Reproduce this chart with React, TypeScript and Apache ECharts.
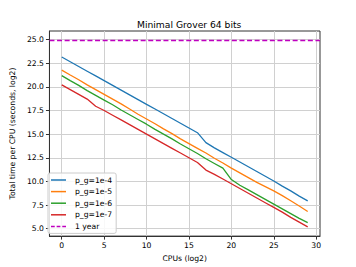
import React, { useEffect, useRef } from "react";
import * as echarts from "echarts";

const TITLE = "Minimal Grover 64 bits";
const X_LABEL = "CPUs (log2)";
const Y_LABEL = "Total time per CPU (seconds, log2)";

const cpus = [0, 1, 2, 3, 4, 5, 6, 7, 8, 9, 10, 11, 12, 13, 14, 15, 16, 17, 18, 19, 20, 21, 22, 23, 24, 25, 26, 27, 28, 29];
const pg1e4 = [23.15, 22.65, 22.15, 21.65, 21.15, 20.65, 20.15, 19.65, 19.15, 18.65, 18.15, 17.65, 17.15, 16.65, 16.15, 15.65, 15.15, 14.1, 13.55, 13.05, 12.55, 12.05, 11.55, 11.05, 10.55, 10.05, 9.5, 9.0, 8.45, 7.95];
const pg1e5 = [21.77, 21.25, 20.75, 20.2, 19.7, 19.2, 18.7, 18.2, 17.65, 17.1, 16.6, 16.1, 15.55, 15.05, 14.5, 14.0, 13.5, 13.0, 12.45, 11.95, 11.4, 10.9, 10.4, 9.9, 9.45, 9.0, 8.5, 7.95, 7.4, 6.82];
const pg1e6 = [21.18, 20.65, 20.15, 19.6, 19.1, 18.6, 18.1, 17.55, 17.05, 16.55, 16.05, 15.5, 15.0, 14.5, 13.95, 13.45, 12.95, 12.4, 11.9, 11.4, 10.2, 9.6, 9.1, 8.6, 8.1, 7.6, 7.1, 6.6, 6.1, 5.65];
const pg1e7 = [20.2, 19.7, 19.2, 18.7, 17.95, 17.5, 17.0, 16.5, 16.0, 15.5, 15.0, 14.5, 14.0, 13.5, 13.0, 12.5, 12.0, 11.2, 10.75, 10.25, 9.75, 9.25, 8.75, 8.25, 7.75, 7.25, 6.75, 6.2, 5.7, 5.2];
const oneYear = 24.91;

const seriesNames = ["p_g=1e-4", "p_g=1e-5", "p_g=1e-6", "p_g=1e-7"];
const seriesColors = ["#1f77b4", "#ff7f0e", "#2ca02c", "#d62728"];
const seriesValues = [pg1e4, pg1e5, pg1e6, pg1e7];
const yearName = "1 year";
const yearColor = "#bf00bf";

const xTicks = [0, 5, 10, 15, 20, 25, 30];
const yTicks = [5, 7.5, 10, 12.5, 15, 17.5, 20, 22.5, 25];

const FONT = "DejaVu Sans";
const SOLID_ICON = "path://M0,0h20v2h-20z";
const DASH_ICON = "path://M0,0h5v2h-5z M7.5,0h5v2h-5z M15,0h5v2h-5z";

export default function App() {
  const ref = useRef<HTMLDivElement>(null);
  useEffect(() => {
    if (!ref.current) return;
    const chart = echarts.init(ref.current, undefined, { renderer: "svg" });
    const lines = seriesValues.map((vals, i) => ({
      name: seriesNames[i],
      type: "line",
      data: cpus.map((c, j) => [c, vals[j]]),
      symbol: "none",
      color: seriesColors[i],
      lineStyle: { color: seriesColors[i], width: 1.3 },
      z: 3,
    }));
    const option: any = {
      animation: false,
      backgroundColor: "#ffffff",
      textStyle: { fontFamily: FONT },
      title: {
        text: TITLE,
        left: 137,
        top: 20,
        textStyle: { fontFamily: FONT, fontSize: 9.2, fontWeight: "normal", color: "#000" },
        padding: 0,
      },
      grid: {
        left: 45,
        right: 36,
        top: 31,
        bottom: 30,
        show: true,
        borderColor: "#333",
        borderWidth: 1,
        backgroundColor: "transparent",
      },
      legend: {
        orient: "vertical",
        left: 48,
        top: 173,
        data: [
          ...seriesNames.map((n, i) => ({ name: n, icon: SOLID_ICON, itemStyle: { color: seriesColors[i] } })),
          { name: yearName, icon: DASH_ICON, itemStyle: { color: yearColor } },
        ],
        itemWidth: 15,
        itemHeight: 1.5,
        itemGap: 3.6,
        padding: [3, 4, 3, 3],
        backgroundColor: "rgba(255,255,255,0.85)",
        borderColor: "#cccccc",
        borderWidth: 1,
        borderRadius: 2,
        textStyle: { fontFamily: FONT, fontSize: 7.67, color: "#000", padding: [0, 0, 0, 4] },
      },
      xAxis: {
        type: "value",
        min: -1.45,
        max: 30.45,
        name: X_LABEL,
        nameLocation: "middle",
        nameGap: 15,
        nameTextStyle: { fontFamily: FONT, fontSize: 7.67, color: "#000" },
        axisLine: { show: true, onZero: false, lineStyle: { color: "#333", width: 1 } },
        axisTick: { show: true, customValues: xTicks, length: 3.5, lineStyle: { color: "#333" } },
        axisLabel: {
          customValues: xTicks,
          margin: 5,
          fontFamily: FONT,
          fontSize: 7.67,
          color: "#000",
        },
        splitLine: { show: true, lineStyle: { color: "#d0d0d0", width: 1 } },
      },
      yAxis: {
        type: "value",
        min: 4.22,
        max: 25.9,
        name: Y_LABEL,
        nameLocation: "middle",
        nameGap: 26,
        nameTextStyle: { fontFamily: FONT, fontSize: 7.67, color: "#000" },
        axisLine: { show: true, onZero: false, lineStyle: { color: "#333", width: 1 } },
        axisTick: { show: true, customValues: yTicks, length: 3.5, lineStyle: { color: "#333" } },
        axisLabel: {
          customValues: yTicks,
          margin: 5.5,
          fontFamily: FONT,
          fontSize: 7.67,
          color: "#000",
          formatter: (v: number) => v.toFixed(1),
        },
        splitLine: { show: true, lineStyle: { color: "#d0d0d0", width: 1 } },
      },
      series: [
        ...lines,
        {
          name: yearName,
          type: "line",
          data: [],
          symbol: "none",
          color: yearColor,
          lineStyle: { color: yearColor, width: 1.3, type: [4, 2.5] },
          markLine: {
            silent: true,
            symbol: "none",
            label: { show: false },
            lineStyle: { color: yearColor, width: 1.3, type: [5, 2.6] },
            data: [{ yAxis: oneYear }],
          },
          z: 4,
        },
      ],
    };
    chart.setOption(option);
    return () => chart.dispose();
  }, []);
  return (
    <div
      ref={ref}
      style={{ position: "fixed", left: 0, top: 0, width: 356, height: 267 }}
    />
  );
}
